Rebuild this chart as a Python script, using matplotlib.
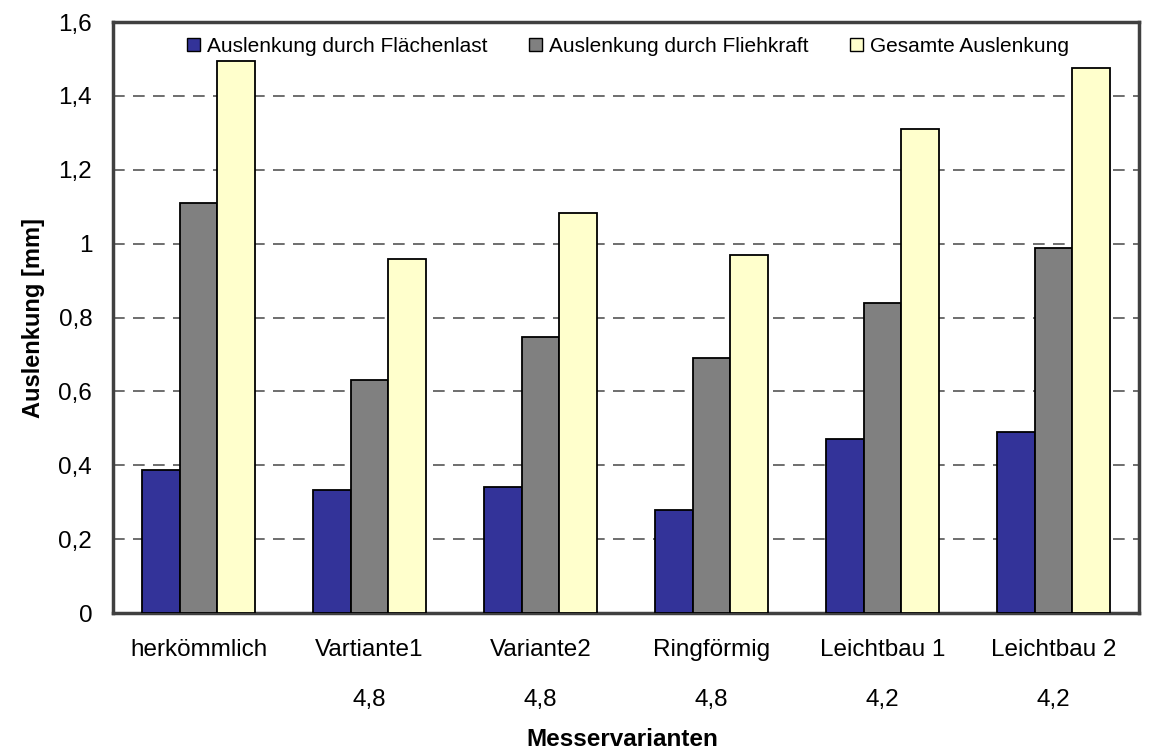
import numpy as np
import matplotlib
matplotlib.use('Agg')
import matplotlib.pyplot as plt
from matplotlib.patches import Patch

plt.rcParams['font.family'] = ['Liberation Sans', 'DejaVu Sans']

# Daten
categories = ['herkömmlich', 'Vartiante1', 'Variante2', 'Ringförmig', 'Leichtbau 1', 'Leichtbau 2']
sub_labels = ['', '4,8', '4,8', '4,8', '4,2', '4,2']
flaechenlast = [0.388, 0.332, 0.34, 0.28, 0.47, 0.49]
fliehkraft = [1.11, 0.63, 0.746, 0.69, 0.84, 0.987]
gesamt = [1.495, 0.958, 1.084, 0.97, 1.311, 1.475]
series_names = ['Auslenkung durch Flächenlast', 'Auslenkung durch Fliehkraft', 'Gesamte Auslenkung']
colors = ['#333399', '#808080', '#FFFFCC']

fig = plt.figure(figsize=(11.53, 7.56), dpi=100)
ax = fig.add_axes([113 / 1153, 1 - 613 / 756, (1139 - 113) / 1153, (613 - 22) / 756])

x = np.arange(len(categories))
w = 0.222
for i, (vals, c) in enumerate(zip([flaechenlast, fliehkraft, gesamt], colors)):
    ax.bar(x + (i - 1) * w, vals, width=w, color=c, edgecolor='black', linewidth=1.3, zorder=3)

ax.set_xlim(-0.5, len(categories) - 0.5)
ax.set_ylim(0, 1.6)
ax.set_yticks(np.arange(0, 1.61, 0.2))
ax.set_yticklabels(['0', '0,2', '0,4', '0,6', '0,8', '1', '1,2', '1,4', '1,6'])
ax.set_xticks(x)
ax.set_xticklabels(categories)
ax.tick_params(axis='both', length=0, labelsize=17.5)
ax.tick_params(axis='y', pad=15)
ax.tick_params(axis='x', pad=19)

# zweite Zeile unter den Kategorien
for xi, s in zip(x, sub_labels):
    ax.text(xi, -0.236, s, ha='center', va='center', fontsize=17.5,
            transform=ax.transData, clip_on=False)

ax.yaxis.grid(True, linestyle=(0, (7, 5)), color='#555555', linewidth=1.2, zorder=0)
for sp in ax.spines.values():
    sp.set_color('#404040')
    sp.set_linewidth(2.5)

ax.set_ylabel('Auslenkung [mm]', fontsize=17, fontweight='bold')
ax.yaxis.set_label_coords(-0.066, 0.5)
fig.text(622 / 1153, 1 - 740 / 756, 'Messervarianten', ha='center', va='center',
         fontsize=17.5, fontweight='bold')

handles = [Patch(facecolor=c, edgecolor='black', linewidth=1) for c in colors]
leg = ax.legend(handles, series_names, ncol=3, loc='upper left',
                bbox_to_anchor=((186 - 113) / 1026 - 0.005, 0.985), frameon=False, fontsize=15,
                handlelength=0.6, handleheight=0.6, handletextpad=0.35,
                columnspacing=2.0, borderaxespad=0, borderpad=0.3)

fig.savefig('out.png', dpi=100)
